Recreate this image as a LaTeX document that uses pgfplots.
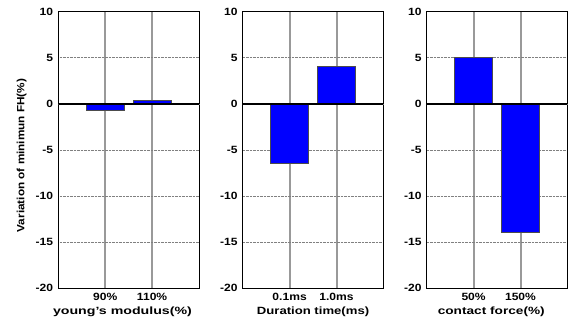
\documentclass[border=0pt]{standalone}
\usepackage{fontspec}
\setmainfont{Liberation Sans}
\usepackage{pgfplots}
\pgfplotsset{compat=1.18}
\definecolor{barblue}{RGB}{0,0,255}
\pgfplotsset{
  panel/.style={
    scale only axis, width=140.7pt, height=276.6pt, anchor=south west,
    xmin=0, xmax=3, ymin=-20, ymax=10,
    xtick={1,2}, ytick={-20,-15,-10,-5,0,5,10},
    yticklabels={-20,-15,-10,-5,0,5,10},
    major tick length=0pt,
    xmajorgrids, ymajorgrids,
    x grid style={draw=black!40, line width=2pt},
    y grid style={draw=gray, densely dotted, line width=0.6pt},
    extra y ticks={0}, extra y tick labels={},
    extra y tick style={grid=major, major grid style={draw=black, solid, line width=1.3pt}},
    axis line style={black, line width=0.9pt},
    ticklabel style={font=\fontsize{10.5}{12}\selectfont\bfseries},
    yticklabel style={xscale=1.15, xshift=-1pt},
    xticklabel style={xscale=1.15, yshift=-1pt},
    label style={font=\fontsize{10.5}{12}\selectfont\bfseries},
    xlabel style={at={(axis description cs:0.5,-0.085)}, anchor=center},
  },
  bars/.style={ybar, bar width=0.8, bar shift=0pt, fill=barblue, draw=black!70, line width=0.7pt},
  zeroline/.style={black, line width=1.3pt, forget plot},
}
\begin{document}
\begin{tikzpicture}
\useasboundingbox (0,0) rectangle (572pt,321pt);
\begin{axis}[panel, at={(58.3pt,32.7pt)},
  xticklabels={90\%,110\%},
  xlabel={young's modulus(\%)},
  xlabel style={at={(axis description cs:0.456,-0.085)}, xscale=1.35},
  ylabel={Variation of minimun FH(\%)},
  ylabel style={at={(axis description cs:-0.26,0.48)}, anchor=center, xscale=1.12}]
\addplot[bars] coordinates {(1,-0.7) (2,0.4)};
\addplot[zeroline] coordinates {(0,0) (3,0)};
\end{axis}
\begin{axis}[panel, at={(242.7pt,32.7pt)},
  xticklabels={0.1ms,1.0ms},
  xlabel={Duration time(ms)},
  xlabel style={xscale=1.25}]
\addplot[bars] coordinates {(1,-6.45) (2,4.1)};
\addplot[zeroline] coordinates {(0,0) (3,0)};
\end{axis}
\begin{axis}[panel, at={(426.7pt,32.7pt)},
  xticklabels={50\%,150\%},
  xlabel={contact force(\%)},
  xlabel style={at={(axis description cs:0.459,-0.085)}, xscale=1.3}]
\addplot[bars] coordinates {(1,5.07) (2,-13.95)};
\addplot[zeroline] coordinates {(0,0) (3,0)};
\end{axis}
\end{tikzpicture}
\end{document}
